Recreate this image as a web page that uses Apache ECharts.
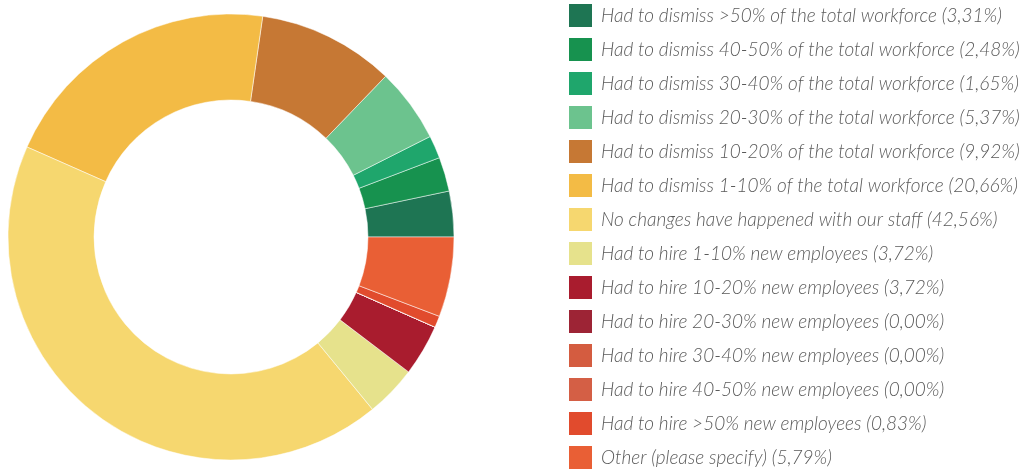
<!DOCTYPE html>
<html>
<head>
<meta charset="utf-8">
<script src="https://cdn.jsdelivr.net/npm/echarts@6/dist/echarts.min.js"></script>
<style>
  html, body { margin: 0; padding: 0; background: #fff; }
  #chart { width: 1030px; height: 470px; }
</style>
</head>
<body>
<div id="chart"></div>
<script>
// Staff changes: categories, shares (%) and slice colours
const categories = [
  'Had to dismiss >50% of the total workforce',
  'Had to dismiss 40-50% of the total workforce',
  'Had to dismiss 30-40% of the total workforce',
  'Had to dismiss 20-30% of the total workforce',
  'Had to dismiss 10-20% of the total workforce',
  'Had to dismiss 1-10% of the total workforce',
  'No changes have happened with our staff',
  'Had to hire 1-10% new employees',
  'Had to hire 10-20% new employees',
  'Had to hire 20-30% new employees',
  'Had to hire 30-40% new employees',
  'Had to hire 40-50% new employees',
  'Had to hire >50% new employees',
  'Other (please specify)'
];
const shares = [3.31, 2.48, 1.65, 5.37, 9.92, 20.66, 42.56, 3.72, 3.72, 0.00, 0.00, 0.00, 0.83, 5.79];
const colors = [
  '#1e7553', '#17924f', '#1fa66c', '#6cc38e', '#c67834', '#f3bb45', '#f6d76f',
  '#e6e28c', '#a91c2e', '#9d2435', '#d45c40', '#d45f45', '#e14b2d', '#e95f35'
];

const fmt = v => v.toFixed(2).replace('.', ',');
const shareByName = {};
categories.forEach((c, i) => { shareByName[c] = shares[i]; });

const chart = echarts.init(document.getElementById('chart'), null, { renderer: 'canvas' });
chart.setOption({
  animation: false,
  color: colors,
  legend: {
    orient: 'vertical',
    left: 569,
    top: 4,
    height: 466,
    padding: 0,
    itemWidth: 23,
    itemHeight: 23,
    itemGap: 11,
    icon: 'rect',
    selectedMode: false,
    itemStyle: { borderWidth: 0 },
    formatter: name => name + ' (' + fmt(shareByName[name]) + '%)',
    textStyle: {
      fontFamily: 'Lato',
      fontStyle: 'italic',
      fontWeight: 300,
      fontSize: 19,
      color: '#5a5a5a',
      lineHeight: 23,
      padding: [0, 0, 0, 4]
    }
  },
  series: [{
    type: 'pie',
    center: [231, 237],
    radius: [137, 223],
    startAngle: 0,
    clockwise: false,
    avoidLabelOverlap: false,
    label: { show: false },
    labelLine: { show: false },
    emphasis: { disabled: true },
    itemStyle: { borderColor: '#ffffff', borderWidth: 0.5 },
    data: categories.map((c, i) => ({ name: c, value: shares[i] }))
  }]
});
</script>
</body>
</html>
